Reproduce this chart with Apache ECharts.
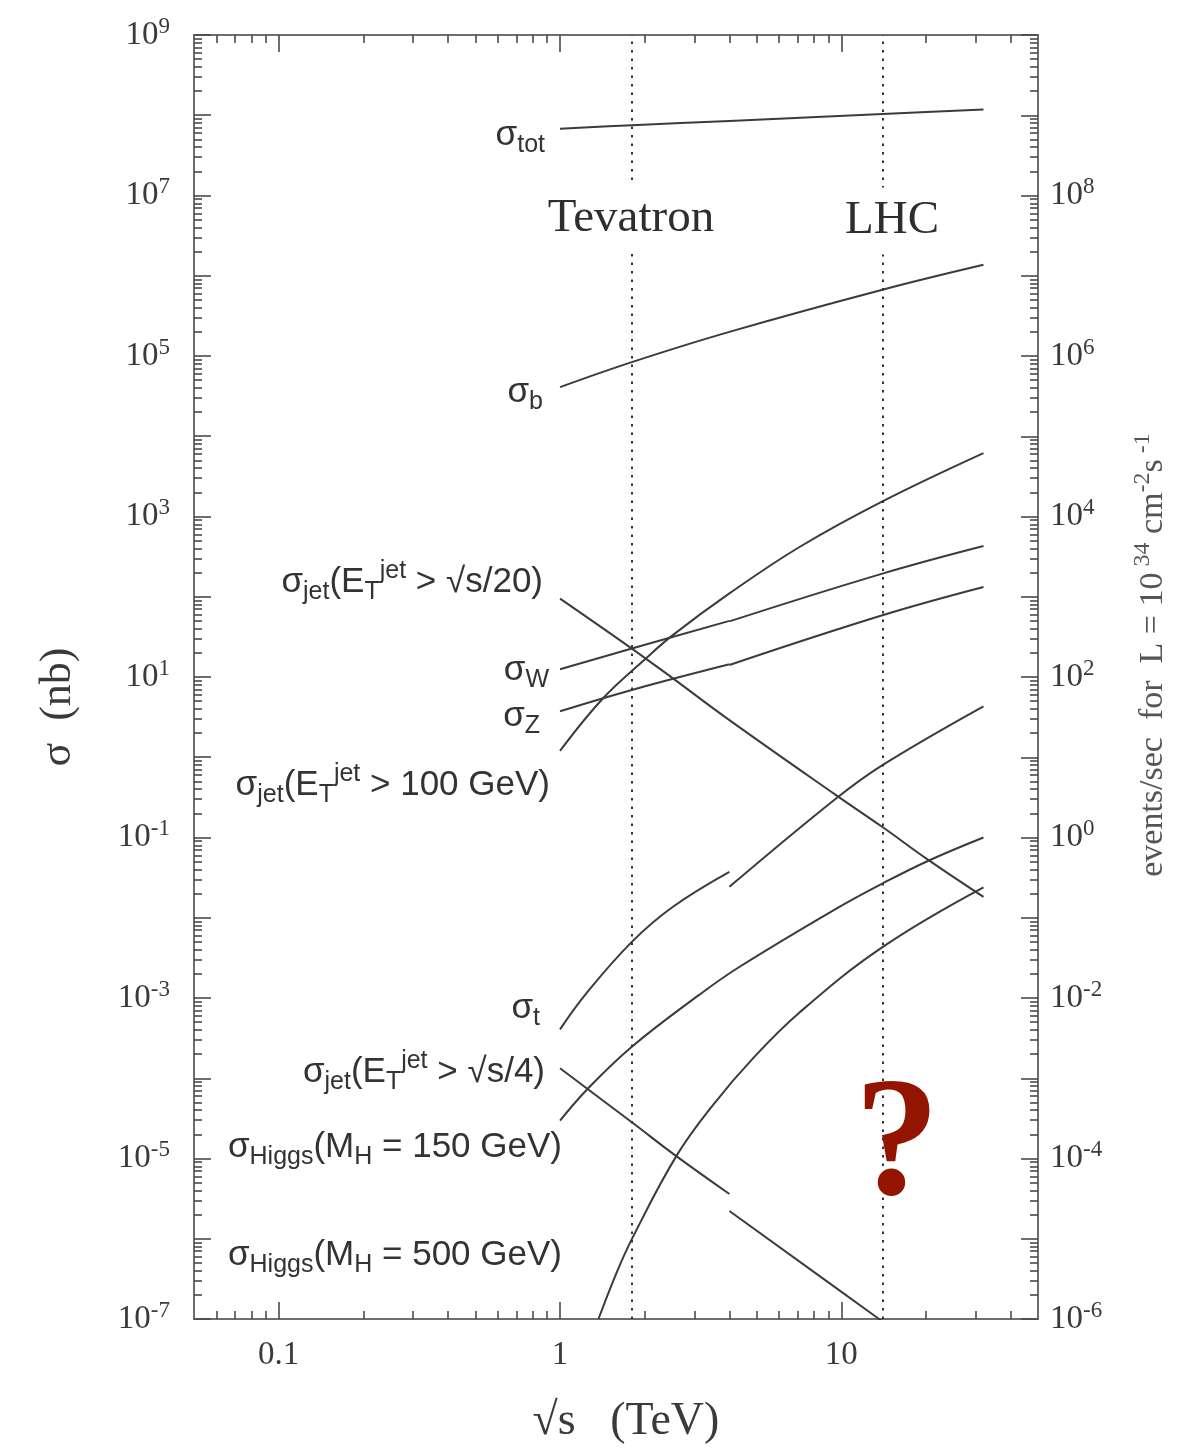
<!DOCTYPE html>
<html>
<head>
<meta charset="utf-8">
<title>Cross sections vs collider energy</title>
<script src="https://cdn.jsdelivr.net/npm/echarts@6/dist/echarts.min.js"></script>
<style>
  html, body { margin: 0; padding: 0; background: #fff; }
  #chart { width: 1195px; height: 1448px; }
</style>
</head>
<body>
<div id="chart"></div>
<script>
// ---- data: sqrt(s) in TeV, cross section in nb --------------------------
// total cross section
const totE = [1, 1.8, 4, 14, 32];
const totSigma = [6.8e7, 7.5e7, 8.5e7, 1.035e8, 1.18e8];
// b production
const bE = [1, 1.8, 4, 14, 32];
const bSigma = [4.1e4, 8.4e4, 2.0e5, 6.7e5, 1.37e6];
// jets, E_T > 100 GeV
const jet100E = [1, 1.42, 2.0, 2.51, 4.0, 7.1, 14, 32];
const jet100Sigma = [1.2, 5.4, 16.5, 33, 110, 417, 1545, 6170];
// W: p-pbar below 4 TeV, p-p above
const wLowE = [1, 1.8, 4];
const wLowSigma = [12.5, 22.6, 50];
const wHighE = [4, 14, 32];
const wHighSigma = [49.3, 194, 428];
// Z
const zLowE = [1, 1.8, 4];
const zLowSigma = [3.74, 6.9, 14.4];
const zHighE = [4, 14, 32];
const zHighSigma = [14.1, 58.7, 132];
// jets, E_T > sqrt(s)/20
const jet20E = [1, 1.8, 2.52, 4, 9.6, 14, 20.3, 32];
const jet20Sigma = [94.8, 22.6, 9.6, 2.9, 0.335, 0.135, 0.053, 0.0182];
// top
const topLowE = [1, 1.24, 1.8, 2.52, 4];
const topLowSigma = [4.06e-4, 1.14e-3, 5.0e-3, 0.0137, 0.0373];
const topHighE = [4, 9.6, 14, 32];
const topHighSigma = [0.0243, 0.309, 0.80, 4.32];
// Higgs, M_H = 150 GeV
const h150E = [1, 1.25, 1.8, 3.13, 4.35, 9.6, 14, 20.3, 32];
const h150Sigma = [2.96e-5, 7.3e-5, 2.47e-4, 1.10e-3, 2.45e-3, 0.013, 0.0267, 0.051, 0.1];
// jets, E_T > sqrt(s)/4
const jet4LowE = [1, 1.8, 2.59, 4];
const jet4LowSigma = [1.33e-4, 2.83e-5, 1.07e-5, 3.61e-6];
const jet4HighE = [4, 13.5, 14];
const jet4HighSigma = [2.22e-6, 1.02e-7, 9.3e-8];
// Higgs, M_H = 500 GeV
const h500E = [1.37, 1.58, 1.8, 2.59, 3.49, 4.85, 7.1, 14, 32];
const h500Sigma = [1.0e-7, 3.6e-7, 9.9e-7, 1.07e-5, 4.6e-5, 1.77e-4, 6.6e-4, 4.3e-3, 0.0239];

// collider energies marked by dotted lines
const colliderNames = ['Tevatron', 'LHC'];
const colliderE = [1.8, 14];

// axis ranges and tick labels
const xRange = [0.05, 50];
const sigmaRange = [1e-7, 1e9];
const rateRange = [1e-6, 1e10];          // events/sec at L = 1e34 cm^-2 s^-1
const xLabelValues = [0.1, 1, 10];
const sigmaLabelValues = [1e-7, 1e-5, 1e-3, 1e-1, 1e1, 1e3, 1e5, 1e7, 1e9];
const rateLabelValues = [1e-6, 1e-4, 1e-2, 1, 1e2, 1e4, 1e6, 1e8];

// ---- helpers -------------------------------------------------------------
function decades(lo, hi) {
  const out = [];
  for (let e = Math.round(Math.log10(lo)); e <= Math.round(Math.log10(hi)); e++) out.push(Number('1e' + e));
  return out;
}
function minors(lo, hi) {
  const out = [];
  for (let e = Math.floor(Math.log10(lo)); Number('1e' + e) < hi; e++) {
    for (let k = 2; k <= 9; k++) {
      const v = Number(k + 'e' + e);
      if (v > lo * 1.0001 && v < hi * 0.9999) out.push(v);
    }
  }
  return out;
}
const pairs = (xs, ys) => xs.map((x, i) => [x, ys[i]]);

const SERIF = '"Liberation Serif", "DejaVu Serif", serif';
const SANS = '"Liberation Sans", Arial, "DejaVu Sans", sans-serif';
const INK = '#3b3b3b';
const TEXT = '#333333';
const AXIS = '#6e6e6e';
const TICK = '#4a4a4a';

const powerRich = {
  b: { fontFamily: SERIF, fontSize: 33, lineHeight: 40, color: '#3a3a3a' },
  s: { fontFamily: SERIF, fontSize: 23, lineHeight: 16, verticalAlign: 'top', color: '#3a3a3a' }
};
function powerLabel(v) {
  const e = Math.round(Math.log10(v));
  return '{b|10}{s|' + e + '}';
}

function logAxis(o) {
  return Object.assign({
    type: 'log', logBase: 10,
    splitLine: { show: false },
    minorTick: { show: false },
    minorSplitLine: { show: false },
    axisPointer: { show: false }
  }, o);
}
function tickSet(values, len, withLine) {
  return {
    axisLine: { show: withLine, lineStyle: { color: AXIS, width: 2 } },
    axisTick: { show: true, inside: true, length: len, customValues: values,
                lineStyle: { color: TICK, width: 1.6 } }
  };
}

const xMajor = decades(0.1, 10);
const xMinor = minors(xRange[0], xRange[1]);
const sMajor = decades(sigmaRange[0], sigmaRange[1]);
const sMinor = minors(sigmaRange[0], sigmaRange[1]);
const rMajor = decades(rateRange[0], rateRange[1]);
const rMinor = minors(rateRange[0], rateRange[1]);

const noLabel = { axisLabel: { show: false } };

const xAxes = [
  logAxis(Object.assign({ position: 'bottom', min: xRange[0], max: xRange[1] }, tickSet(xMajor, 17, true), {
    axisLabel: { show: true, customValues: xLabelValues, margin: 20,
      fontFamily: SERIF, fontSize: 33, color: '#3a3a3a',
      formatter: v => String(+Number(v).toPrecision(6)) }
  })),
  logAxis(Object.assign({ position: 'bottom', min: xRange[0], max: xRange[1] }, tickSet(xMinor, 8, false), noLabel)),
  logAxis(Object.assign({ position: 'top', min: xRange[0], max: xRange[1] }, tickSet(xMajor, 17, true), noLabel)),
  logAxis(Object.assign({ position: 'top', min: xRange[0], max: xRange[1] }, tickSet(xMinor, 8, false), noLabel))
];

const yAxes = [
  logAxis(Object.assign({ position: 'left', min: sigmaRange[0], max: sigmaRange[1] }, tickSet(sMajor, 17, true), {
    axisLabel: { show: true, customValues: sigmaLabelValues, margin: 24,
      formatter: powerLabel, rich: powerRich }
  })),
  logAxis(Object.assign({ position: 'left', min: sigmaRange[0], max: sigmaRange[1] }, tickSet(sMinor, 8, false), noLabel)),
  logAxis(Object.assign({ position: 'right', min: rateRange[0], max: rateRange[1] }, tickSet(rMajor, 17, true), {
    axisLabel: { show: true, customValues: rateLabelValues, margin: 12,
      formatter: powerLabel, rich: powerRich }
  })),
  logAxis(Object.assign({ position: 'right', min: rateRange[0], max: rateRange[1] }, tickSet(rMinor, 8, false), noLabel))
];

function curve(name, xs, ys) {
  return {
    type: 'line', name: name, data: pairs(xs, ys),
    xAxisIndex: 0, yAxisIndex: 0,
    symbol: 'none', showSymbol: false,
    smooth: 0.4,
    clip: true, silent: true,
    lineStyle: { color: INK, width: 2 },
    z: 3
  };
}

const series = [
  curve('tot', totE, totSigma),
  curve('b', bE, bSigma),
  curve('jet100', jet100E, jet100Sigma),
  curve('W ppbar', wLowE, wLowSigma),
  curve('W pp', wHighE, wHighSigma),
  curve('Z ppbar', zLowE, zLowSigma),
  curve('Z pp', zHighE, zHighSigma),
  curve('jet s/20', jet20E, jet20Sigma),
  curve('top ppbar', topLowE, topLowSigma),
  curve('top pp', topHighE, topHighSigma),
  curve('Higgs 150', h150E, h150Sigma),
  curve('jet s/4 ppbar', jet4LowE, jet4LowSigma),
  curve('jet s/4 pp', jet4HighE, jet4HighSigma),
  curve('Higgs 500', h500E, h500Sigma),
  {
    type: 'line', name: 'colliders', data: [], xAxisIndex: 0, yAxisIndex: 0,
    silent: true,
    markLine: {
      silent: true, symbol: ['none', 'none'], label: { show: false },
      lineStyle: { color: '#333', width: 2, type: [2.5, 6] },
      data: colliderE.map((e, i) => ({ name: colliderNames[i], xAxis: e }))
    },
    z: 2
  }
];

// ---- text annotations ----------------------------------------------------
const labelRich = {
  sub: { fontFamily: SANS, fontSize: 25, lineHeight: 20, verticalAlign: 'bottom', fill: TEXT },
  sup: { fontFamily: SANS, fontSize: 25, lineHeight: 18, verticalAlign: 'top', fill: TEXT }
};
function tag(x, y, text) {
  return {
    type: 'text', x: x, y: y, z: 100, silent: true,
    style: { text: text, fontFamily: SANS, fontSize: 35, lineHeight: 46, fill: TEXT,
             align: 'right', verticalAlign: 'middle', rich: labelRich }
  };
}
const graphics = [
  tag(545, 135, 'σ{sub|tot}'),
  tag(543, 392, 'σ{sub|b}'),
  tag(543, 582, 'σ{sub|jet}(E{sub|T}{sup|jet} > √s/20)'),
  tag(549, 670, 'σ{sub|W}'),
  tag(540, 716, 'σ{sub|Z}'),
  tag(550, 785, 'σ{sub|jet}(E{sub|T}{sup|jet} > 100 GeV)'),
  tag(540, 1008, 'σ{sub|t}'),
  tag(545, 1072, 'σ{sub|jet}(E{sub|T}{sup|jet} > √s/4)'),
  tag(562, 1147, 'σ{sub|Higgs}(M{sub|H} = 150 GeV)'),
  tag(562, 1255, 'σ{sub|Higgs}(M{sub|H} = 500 GeV)'),
  {
    type: 'text', x: 631, y: 219, z: 100, silent: true,
    style: { text: colliderNames[0], fontFamily: SERIF, fontSize: 47, fill: '#2e2e2e',
             align: 'center', verticalAlign: 'middle', backgroundColor: '#fff', padding: [10, 4] }
  },
  {
    type: 'text', x: 892, y: 221, z: 100, silent: true,
    style: { text: colliderNames[1], fontFamily: SERIF, fontSize: 47, fill: '#2e2e2e',
             align: 'center', verticalAlign: 'middle', backgroundColor: '#fff', padding: [10, 4] }
  },
  {
    type: 'text', x: 897, y: 1150, z: 100, silent: true,
    style: { text: '?', fontFamily: SERIF, fontWeight: 'bold', fontSize: 170, fill: '#931400',
             align: 'center', verticalAlign: 'middle' }
  },
  {
    type: 'text', x: 58, y: 707, z: 100, silent: true, rotation: Math.PI / 2,
    style: { text: 'σ  (nb)', fontFamily: SERIF, fontSize: 44, fill: '#3a3a3a',
             align: 'center', verticalAlign: 'middle' }
  },
  {
    type: 'text', x: 626, y: 1422, z: 100, silent: true,
    style: { text: '√s   (TeV)', fontFamily: SERIF, fontSize: 46, fill: '#3a3a3a',
             align: 'center', verticalAlign: 'middle' }
  },
  {
    type: 'text', x: 1153, y: 655, z: 100, silent: true, rotation: Math.PI / 2,
    style: {
      text: 'events/sec  for  L = 10{sup| 34} cm{sup|-2}s{sup| -1}',
      fontFamily: SERIF, fontSize: 34, lineHeight: 44, fill: '#555',
      align: 'center', verticalAlign: 'middle',
      rich: { sup: { fontFamily: SERIF, fontSize: 24, lineHeight: 16, verticalAlign: 'top', fill: '#555' } }
    }
  }
];

const chart = echarts.init(document.getElementById('chart'), null, { renderer: 'canvas' });
chart.setOption({
  animation: false,
  backgroundColor: '#ffffff',
  grid: { left: 194, right: 157, top: 35, bottom: 129, containLabel: false, outerBoundsMode: 'none' },
  xAxis: xAxes,
  yAxis: yAxes,
  series: series,
  graphic: graphics
});
</script>
</body>
</html>
